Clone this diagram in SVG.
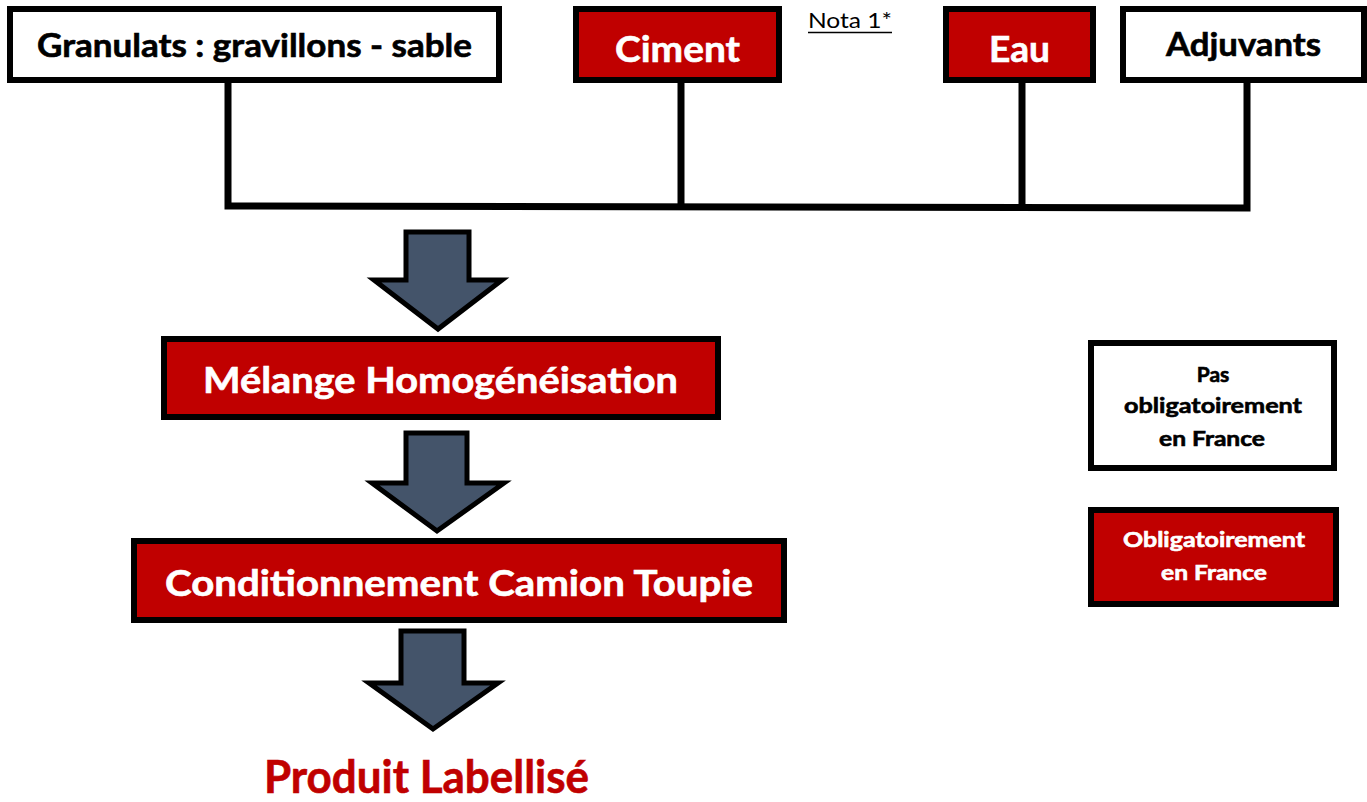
<svg xmlns="http://www.w3.org/2000/svg" width="1367" height="802" viewBox="0 0 1367 802">
<style>
.box{stroke:#000;stroke-width:6;}
.white{fill:#fff;}
.red{fill:#C00000;}
.t{font-family:Lato,"Liberation Sans",sans-serif;font-weight:bold;stroke-width:0.6;}
.tb{fill:#000;stroke:#000;}
.tw{fill:#fff;stroke:#fff;}
.tr{fill:#C00000;stroke:#C00000;}
.arrow{fill:#44546A;stroke:#000;stroke-width:5;stroke-linejoin:miter;}
.conn{fill:none;stroke:#000;stroke-width:7;stroke-linejoin:miter;}
</style>
<rect width="1367" height="802" fill="#fff"/>
<g id="connectors">
<polyline class="conn" points="228,83 228,206 1247,208 1247,83"/>
<line class="conn" x1="681" y1="83" x2="681" y2="207"/>
<line class="conn" x1="1022" y1="83" x2="1022" y2="208"/>
<polygon class="arrow" points="406,232 469,232 469,280 502,280 438,329 374,280 406,280"/>
<polygon class="arrow" points="406,433 467,433 467,483 504,483 437,531 372,483 406,483"/>
<polygon class="arrow" points="401,631 464,631 464,683 498,683 433,729 369,683 401,683"/>
</g>
<g id="granulats">
<rect class="box white" x="10" y="9" width="489" height="71"/>
<text class="t tb" x="37" y="57" font-size="32" textLength="435" lengthAdjust="spacingAndGlyphs">Granulats : gravillons - sable</text>
</g>
<g id="ciment">
<rect class="box red" x="576" y="9" width="203" height="71"/>
<text class="t tw" x="615" y="62" font-size="37" textLength="125" lengthAdjust="spacingAndGlyphs">Ciment</text>
</g>
<g id="nota">
<text x="808" y="28" font-family="Lato,'Liberation Sans',sans-serif" font-size="21" fill="#000" textLength="84" lengthAdjust="spacingAndGlyphs">Nota 1*</text>
<line x1="808" y1="32.5" x2="892" y2="32.5" stroke="#000" stroke-width="1.5"/>
</g>
<g id="eau">
<rect class="box red" x="946" y="9" width="147" height="71"/>
<text class="t tw" x="989" y="62" font-size="37" textLength="61" lengthAdjust="spacingAndGlyphs">Eau</text>
</g>
<g id="adjuvants">
<rect class="box white" x="1123" y="9" width="241" height="71"/>
<text class="t tb" x="1166" y="56" font-size="32" textLength="155" lengthAdjust="spacingAndGlyphs">Adjuvants</text>
</g>
<g id="melange">
<rect class="box red" x="164" y="339" width="554" height="78"/>
<text class="t tw" x="203" y="393" font-size="36" textLength="475" lengthAdjust="spacingAndGlyphs">Mélange Homogénéisation</text>
</g>
<g id="conditionnement">
<rect class="box red" x="134" y="541" width="650" height="79"/>
<text class="t tw" x="165" y="596" font-size="36" textLength="588" lengthAdjust="spacingAndGlyphs">Conditionnement Camion Toupie</text>
</g>
<g id="produit">
<text class="t tr" x="264" y="793" font-size="45" textLength="325" lengthAdjust="spacingAndGlyphs">Produit Labellisé</text>
</g>
<g id="legend-pas">
<rect class="box white" x="1091" y="343" width="243" height="125"/>
<text class="t tb" x="1213" y="382" font-size="21" text-anchor="middle">Pas</text>
<text class="t tb" x="1124" y="413" font-size="21" textLength="178" lengthAdjust="spacingAndGlyphs">obligatoirement</text>
<text class="t tb" x="1159" y="446" font-size="21" textLength="106" lengthAdjust="spacingAndGlyphs">en France</text>
</g>
<g id="legend-obl">
<rect class="box red" x="1091" y="510" width="245" height="94"/>
<text class="t tw" x="1123" y="547" font-size="21" textLength="182" lengthAdjust="spacingAndGlyphs">Obligatoirement</text>
<text class="t tw" x="1161" y="580" font-size="21" textLength="106" lengthAdjust="spacingAndGlyphs">en France</text>
</g>
</svg>
